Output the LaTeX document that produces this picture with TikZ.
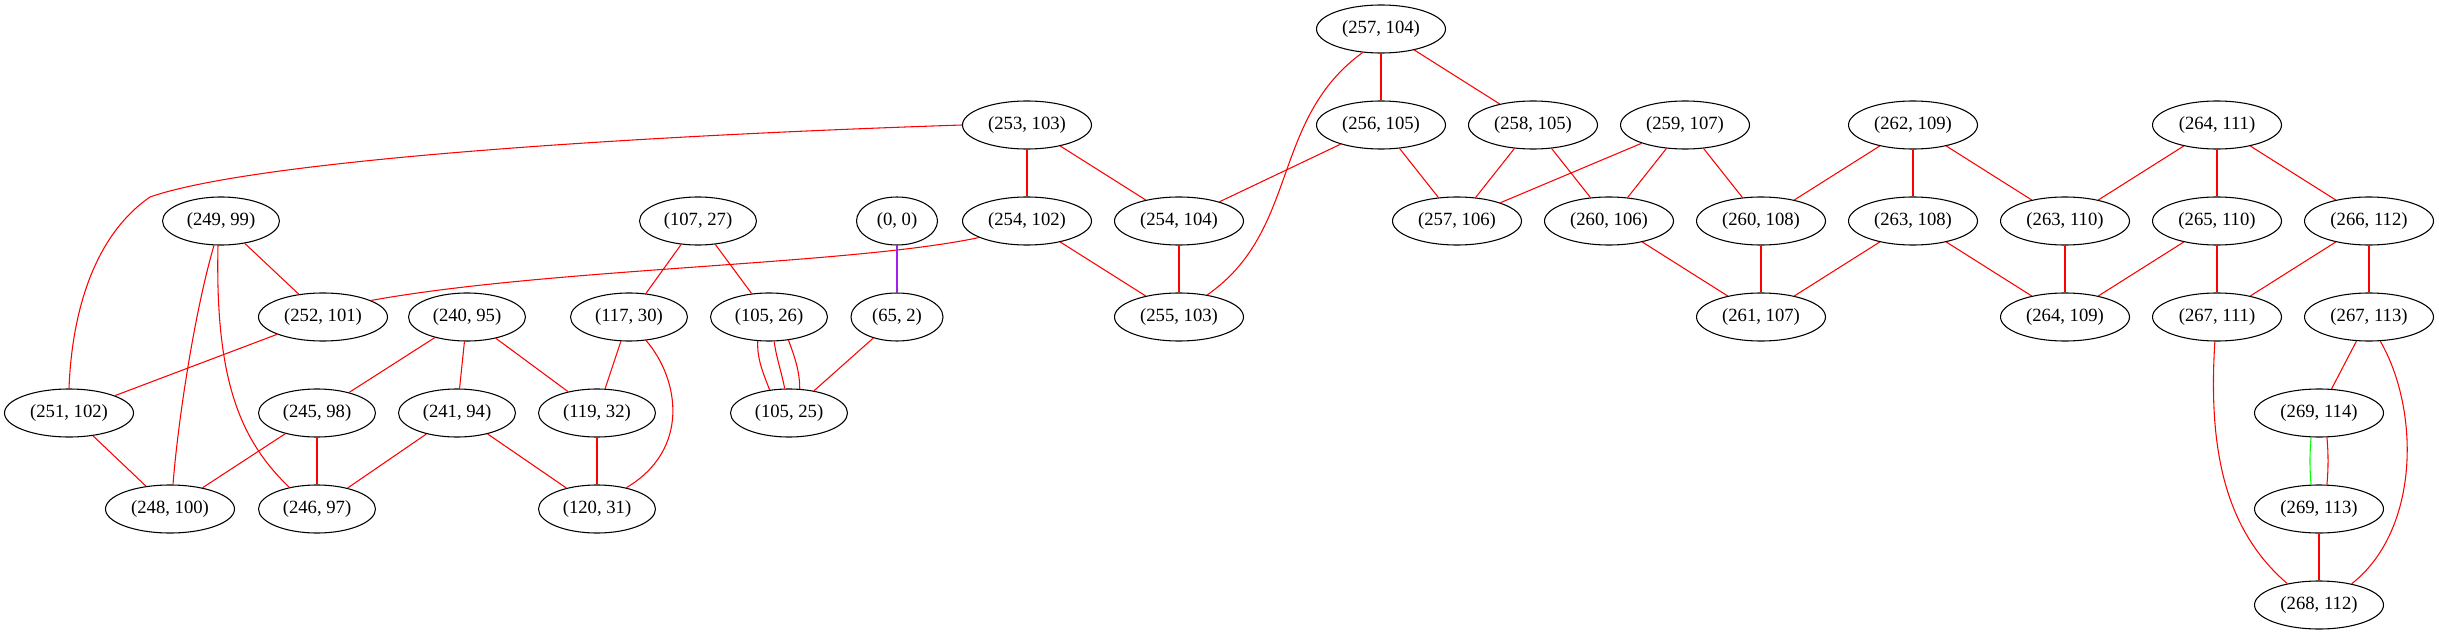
\documentclass[tikz,border=0pt]{standalone}
\usepackage{fontspec}
\setmainfont{Liberation Serif}
\usetikzlibrary{shapes.geometric}
\definecolor{gvred}{HTML}{FF0000}
\definecolor{gvgreen}{HTML}{00FF00}
\definecolor{gvpurple}{HTML}{A020F0}
\tikzset{
  gnode/.style={ellipse, draw=black, line width=0.8pt, inner sep=0pt,
    minimum height=36pt, font=\fontsize{14pt}{16pt}\selectfont},
  wa/.style={gnode, minimum width=96.75pt},
  wb/.style={gnode, minimum width=87.75pt},
  wc/.style={gnode, minimum width=69pt},
  wd/.style={gnode, minimum width=60.75pt},
  redline/.style={draw=gvred, line width=0.8pt},
  greenline/.style={draw=gvgreen, line width=0.8pt},
  purpleline/.style={draw=gvpurple, line width=0.8pt}
}
\begin{document}
\begin{tikzpicture}[x=0.75pt,y=-0.75pt]
\useasboundingbox (0,0) rectangle (2439,635);
% row 1
\node[wa] (n257104) at (1381,29) {(257, 104)};
% row 2
\node[wa] (n253103) at (1027,125) {(253, 103)};
\node[wa] (n256105) at (1381,125) {(256, 105)};
\node[wa] (n258105) at (1533,125) {(258, 105)};
\node[wa] (n259107) at (1685,125) {(259, 107)};
\node[wa] (n262109) at (1913,125) {(262, 109)};
\node[wa] (n264111) at (2217,125) {(264, 111)};
% row 3
\node[wb] (n24999) at (221,221) {(249, 99)};
\node[wb] (n10727) at (698,221) {(107, 27)};
\node[wd] (n00) at (897,221) {(0, 0)};
\node[wa] (n254102) at (1027,221) {(254, 102)};
\node[wa] (n254104) at (1179,221) {(254, 104)};
\node[wa] (n257106) at (1457,221) {(257, 106)};
\node[wa] (n260106) at (1609,221) {(260, 106)};
\node[wa] (n260108) at (1761,221) {(260, 108)};
\node[wa] (n263108) at (1913,221) {(263, 108)};
\node[wa] (n263110) at (2065,221) {(263, 110)};
\node[wa] (n265110) at (2217,221) {(265, 110)};
\node[wa] (n266112) at (2369,221) {(266, 112)};
% row 4
\node[wa] (n252101) at (323,317) {(252, 101)};
\node[wb] (n24095) at (467,317) {(240, 95)};
\node[wb] (n11730) at (629,317) {(117, 30)};
\node[wb] (n10526) at (769,317) {(105, 26)};
\node[wc] (n652) at (897,317) {(65, 2)};
\node[wa] (n255103) at (1179,317) {(255, 103)};
\node[wa] (n261107) at (1761,317) {(261, 107)};
\node[wa] (n264109) at (2065,317) {(264, 109)};
\node[wa] (n267111) at (2217,317) {(267, 111)};
\node[wa] (n267113) at (2369,317) {(267, 113)};
% row 5
\node[wa] (n251102) at (69,413) {(251, 102)};
\node[wb] (n24598) at (317,413) {(245, 98)};
\node[wb] (n24194) at (457,413) {(241, 94)};
\node[wb] (n11932) at (597,413) {(119, 32)};
\node[wb] (n10525) at (789,413) {(105, 25)};
\node[wa] (n269114) at (2319,413) {(269, 114)};
% row 6
\node[wa] (n248100) at (170,509) {(248, 100)};
\node[wb] (n24697) at (317,509) {(246, 97)};
\node[wb] (n12031) at (597,509) {(120, 31)};
\node[wa] (n269113) at (2319,509) {(269, 113)};
% row 7
\node[wa] (n268112) at (2319,605) {(268, 112)};

% left cluster
\draw[redline] (n253103.west) .. controls (600,137) and (250,162) .. (150,197)
   .. controls (95,235) and (72,310) .. (n251102.north);
\draw[redline] (n24999) -- (n252101);
\draw[redline] (n24999.254) .. controls (195,310) and (178,420) .. (n248100.83);
\draw[redline] (n24999.263) .. controls (215,380) and (240,440) .. (n24697.142);
\draw[redline] (n252101) -- (n251102);
\draw[redline] (n251102) -- (n248100);
\draw[redline] (n254102.199) .. controls (850,265) and (550,268) .. (n252101.19);
\draw[redline] (n24095) -- (n24598);
\draw[redline] (n24095) -- (n24194);
\draw[redline] (n24095) -- (n11932);
\draw[redline] (n24598) -- (n248100);
\draw[redline] (n24598) -- (n24697);
\draw[redline] (n24194) -- (n24697);
\draw[redline] (n24194) -- (n12031);
\draw[redline] (n10727) -- (n11730);
\draw[redline] (n10727) -- (n10526);
\draw[redline] (n11730) -- (n11932);
\draw[redline] (n11730.306) .. controls (680,380) and (690,450) .. (n12031.36);
\draw[redline] (n11932) -- (n12031);
\draw[redline] (n10526.245) .. controls +(-1,18) and +(-6,-16) .. (n10525.130);
\draw[redline] (n10526.282) .. controls +(2,16) and +(-3,-16) .. (n10525.100);
\draw[redline] (n10526.310) .. controls +(6,16) and +(0,-18) .. (n10525.66);
\draw[purpleline] (n00) -- (n652);
\draw[redline] (n652) -- (n10525);
% middle
\draw[redline] (n253103) -- (n254102);
\draw[redline] (n253103) -- (n254104);
\draw[redline] (n254102) -- (n255103);
\draw[redline] (n254104) -- (n255103);
\draw[redline] (n256105) -- (n254104);
\draw[redline] (n257104) -- (n256105);
\draw[redline] (n257104) -- (n258105);
\draw[redline] (n257104.232) .. controls (1270,120) and (1300,230) .. (n255103.38);
\draw[redline] (n256105) -- (n257106);
\draw[redline] (n258105) -- (n257106);
\draw[redline] (n258105) -- (n260106);
\draw[redline] (n259107) -- (n257106);
\draw[redline] (n259107) -- (n260106);
\draw[redline] (n259107) -- (n260108);
\draw[redline] (n262109) -- (n260108);
\draw[redline] (n262109) -- (n263108);
\draw[redline] (n262109) -- (n263110);
\draw[redline] (n260106) -- (n261107);
\draw[redline] (n260108) -- (n261107);
\draw[redline] (n263108) -- (n261107);
\draw[redline] (n263108) -- (n264109);
% right
\draw[redline] (n264111) -- (n263110);
\draw[redline] (n264111) -- (n265110);
\draw[redline] (n264111) -- (n266112);
\draw[redline] (n263110) -- (n264109);
\draw[redline] (n265110) -- (n264109);
\draw[redline] (n265110) -- (n267111);
\draw[redline] (n266112) -- (n267111);
\draw[redline] (n266112) -- (n267113);
\draw[redline] (n267113) -- (n269114);
\draw[redline] (n267113.295) .. controls (2420,410) and (2420,530) .. (n268112.33);
\draw[redline] (n267111.265) .. controls (2208,450) and (2225,530) .. (n268112.146);
\draw[greenline] (n269114.252) .. controls +(-1.5,16) and +(-1.5,-16) .. (n269113.108);
\draw[redline] (n269114.288) .. controls +(1.5,16) and +(1.5,-16) .. (n269113.72);
\draw[redline] (n269113) -- (n268112);
\end{tikzpicture}
\end{document}
